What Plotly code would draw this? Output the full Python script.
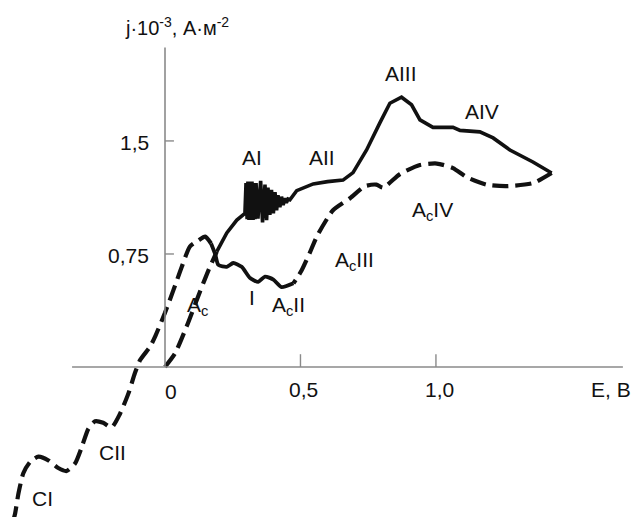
import plotly.graph_objects as go

# ---------------- data (E in V, j in 10^-3 A/m^2) ----------------
# forward scan, initial (dashed) part from origin
fwd0_E = [0.0, 0.037, 0.080, 0.129, 0.160, 0.191]
fwd0_j = [0.0, 0.09, 0.27, 0.50, 0.64, 0.765]

# forward scan, solid part incl. AI oscillations, AII, AIII, AIV
fwd_E = [0.191, 0.228, 0.265, 0.285, 0.295,
         0.299, 0.303, 0.306, 0.310, 0.314, 0.317, 0.321, 0.325, 0.328, 0.332, 0.336,
         0.343, 0.353, 0.360, 0.369, 0.375, 0.380, 0.387, 0.393, 0.400, 0.406, 0.412,
         0.417, 0.424, 0.430, 0.436, 0.443, 0.448, 0.454, 0.461,
         0.486, 0.547, 0.600, 0.657, 0.694, 0.744, 0.793, 0.830, 0.873, 0.910, 0.941,
         0.989, 1.063, 1.089, 1.162, 1.211, 1.273, 1.358, 1.427]
fwd_j = [0.765, 0.89, 0.975, 1.005, 1.02,
         1.22, 0.98, 1.23, 0.975, 1.23, 0.975, 1.23, 0.975, 1.22, 0.98, 1.22,
         0.985, 1.235, 0.96, 1.21, 0.975, 1.19, 1.01, 1.175, 1.02, 1.16, 1.04,
         1.14, 1.06, 1.13, 1.075, 1.12, 1.09, 1.115, 1.11,
         1.17, 1.215, 1.23, 1.24, 1.29, 1.44, 1.62, 1.75, 1.79, 1.74, 1.64,
         1.59, 1.59, 1.57, 1.56, 1.52, 1.44, 1.36, 1.287]

# reverse scan, dashed part (AcIV, AcIII)
rev_E = [1.427, 1.358, 1.261, 1.187, 1.113, 1.063, 1.003, 0.941, 0.867, 0.805,
         0.780, 0.738, 0.683, 0.620, 0.560, 0.535, 0.504, 0.474]
rev_j = [1.287, 1.22, 1.20, 1.21, 1.26, 1.32, 1.35, 1.34, 1.28, 1.19,
         1.21, 1.20, 1.12, 1.04, 0.865, 0.76, 0.64, 0.555]

# reverse scan, solid wavy part (AcII, I)
wav_E = [0.474, 0.43, 0.40, 0.369, 0.344, 0.314, 0.283, 0.252, 0.228, 0.197, 0.185, 0.17]
wav_j = [0.555, 0.53, 0.58, 0.60, 0.565, 0.59, 0.665, 0.69, 0.665, 0.677, 0.75, 0.82]

# reverse scan, cathodic dashed part (Ac, CII, CI)
cat_E = [0.17, 0.148, 0.123, 0.092, 0.062, 0.031, 0.0, -0.037, -0.055, -0.092,
         -0.111, -0.135, -0.166, -0.197, -0.228, -0.258, -0.283, -0.307, -0.332,
         -0.363, -0.394, -0.43, -0.467, -0.498, -0.523, -0.541, -0.553, -0.56]
cat_j = [0.82, 0.865, 0.84, 0.80, 0.665, 0.51, 0.36, 0.20, 0.135, 0.046,
         -0.04, -0.175, -0.31, -0.40, -0.37, -0.36, -0.41, -0.53, -0.64,
         -0.69, -0.67, -0.62, -0.595, -0.63, -0.705, -0.84, -0.97, -1.02]

x_ticks = [0.5, 1.0]
x_tick_labels = ["0,5", "1,0"]
y_ticks = [0.75, 1.5]
y_tick_labels = ["0,75", "1,5"]

# ---------------- figure ----------------
W, H = 634, 517
X0, X1 = -0.609, 1.731
Y0, Y1 = -0.995, 2.435
FONT = "Liberation Sans"
FS = 21
INK = "#111111"
AX = "#8a8a8a"

DASH = "16px,7px"

fig = go.Figure()
def add(xs, ys, dashed):
    fig.add_trace(go.Scatter(
        x=xs, y=ys, mode="lines", hoverinfo="skip", showlegend=False,
        line=dict(color=INK, width=4.2 if dashed else 3.8,
                  dash=DASH if dashed else "solid", shape="spline", smoothing=0.6)))

add(fwd0_E, fwd0_j, True)
fig.add_trace(go.Scatter(x=fwd_E, y=fwd_j, mode="lines", hoverinfo="skip", showlegend=False,
                         line=dict(color=INK, width=3.6)))
add(rev_E, rev_j, True)
add(wav_E, wav_j, False)
add(cat_E, cat_j, True)

shapes = [
    dict(type="line", x0=-0.343, x1=1.69, y0=0, y1=0, line=dict(color=AX, width=1.6)),
    dict(type="line", x0=0, x1=0, y0=0, y1=2.12, line=dict(color=AX, width=1.6)),
]
for t in x_ticks:
    shapes.append(dict(type="line", x0=t, x1=t, y0=0, y1=0.085, line=dict(color=AX, width=1.4)))
for t in y_ticks:
    shapes.append(dict(type="line", x0=0, x1=0.033, y0=t, y1=t, line=dict(color=AX, width=1.4)))

def P(px, py):
    return px / W, 1 - py / H

ann = []
def label(text, px, py, size=FS, xanchor="center"):
    x, y = P(px, py)
    ann.append(dict(text=text, x=x, y=y, xref="paper", yref="paper", showarrow=False,
                    xanchor=xanchor, yanchor="middle",
                    font=dict(family=FONT, size=size, color=INK)))

# tick labels
label("0", 171, 391)
for t, s in zip(x_ticks, x_tick_labels):
    label(s, 165 + 271 * t + 3, 389)
for t, s in zip(y_ticks, y_tick_labels):
    label(s, 151, 367 - 150.7 * t + 2, xanchor="right")
label("E, В", 611, 389)
label("j·10<sup>-3</sup>, А·м<sup>-2</sup>", 177, 26, size=20)

# curve labels
label("AI", 252, 158)
label("AII", 322, 157)
label("AIII", 401, 74)
label("AIV", 482, 111)
label("A<sub>c</sub>IV", 432, 211)
label("A<sub>c</sub>III", 354, 261)
label("I", 252, 297)
label("A<sub>c</sub>II", 288, 306)
label("A<sub>c</sub>", 197, 306)
label("CII", 112, 452)
label("CI", 42, 498)

fig.update_layout(
    width=W, height=H, margin=dict(l=0, r=0, t=0, b=0),
    paper_bgcolor="white", plot_bgcolor="white",
    font=dict(family=FONT, size=FS, color=INK),
    xaxis=dict(range=[X0, X1], visible=False, fixedrange=True),
    yaxis=dict(range=[Y0, Y1], visible=False, fixedrange=True),
    shapes=shapes, annotations=ann,
)
fig.write_html("out.html", config={"displayModeBar": False},
               post_script="document.body.style.margin='0';document.body.style.overflow='hidden';")
